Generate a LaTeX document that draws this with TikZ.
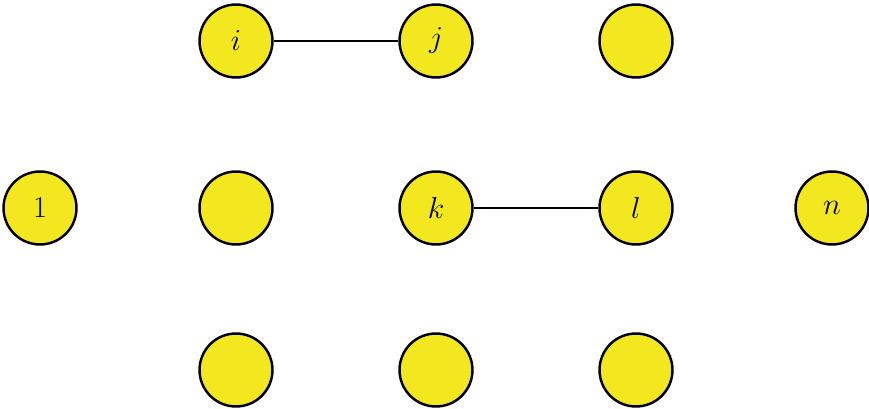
\documentclass[tikz,border=0pt]{standalone}
\usepackage{tikz}
\usetikzlibrary{positioning}
\definecolor{nodeyellow}{RGB}{243,231,32}

\begin{document}
\begin{tikzpicture}[
    % GLOBAL CFG
    x=0.02cm, y=-0.02cm,
    font=\LARGE,
    % Styles
    vertex/.style={% For the yellow vertices
        circle,
        draw,
        fill=nodeyellow,
        line width=1.4pt,
        minimum size=1.46cm,
        inner sep=0pt,
        },
    edge/.style={% For the links between vertices
        line width=1.2pt,
        },
    ]

    % Fix the page size
    \useasboundingbox (0,0) rectangle (869,409);

    % Draw the top row named as basis i,j,t3
    \node [vertex] (i) at (236,41) {$i$};
    \node [vertex] (j) at (436,41) {$j$};
    \node [vertex] (t3) at (636,41) {};

    % Draw the middle row named as basis one,m2,k,l,n
    \node [vertex] (one) at (40,208) {$1$};
    \node [vertex] (m2) at (236,208) {};
    \node [vertex] (k) at (436,208) {$k$};
    \node [vertex] (l) at (636,208) {$l$};
    \node [vertex] (n) at (832,208) {$n$};

    % Draw the bottom row named b#
    \node [vertex] (b1) at (236,370) {};
    \node [vertex] (b2) at (436,370) {};
    \node [vertex] (b3) at (636,370) {};

    % Connect
    \draw [edge] (i) -- (j);
    \draw [edge] (k) -- (l);

\end{tikzpicture}
\end{document}
